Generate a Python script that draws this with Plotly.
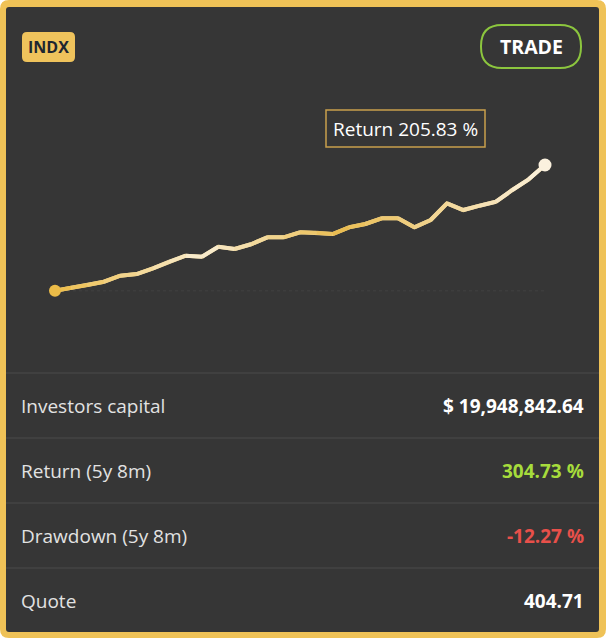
import plotly.graph_objects as go

W, H = 606, 638

# return curve, %
ret = [0, 4.9, 9.3, 14.7, 24.6, 27.3, 36.7, 47.5, 57.3, 55.7,
       72.0, 68.3, 76.0, 87.4, 87.4, 95.6, 95.0, 92.8, 103.8, 109.2,
       118.5, 118.5, 103.8, 115.8, 143.1, 132.1, 139.2, 145.7, 164.9, 182.4,
       205.83]
idx = list(range(len(ret)))

row_labels = ["Investors capital", "Return (5y 8m)", "Drawdown (5y 8m)", "Quote"]
row_values = ["$ 19,948,842.64", "304.73 %", "-12.27 %", "404.71"]
row_colors = ["#ffffff", "#a6dc3c", "#e8504a", "#ffffff"]

tip_text = "Return 205.83 %"
badge_text = "INDX"
button_text = "TRADE"

BG = "#363636"
GOLD = "#efc257"


def px(x):
    return x / W


def py(y):
    return 1 - y / H


def rrect(x0, y0, x1, y1, r):
    # rounded rectangle path in paper units, pixel input
    X = lambda v: f"{px(v):.5f}"
    Y = lambda v: f"{py(v):.5f}"
    return (f"M {X(x0 + r)} {Y(y0)} L {X(x1 - r)} {Y(y0)} Q {X(x1)} {Y(y0)} {X(x1)} {Y(y0 + r)} "
            f"L {X(x1)} {Y(y1 - r)} Q {X(x1)} {Y(y1)} {X(x1 - r)} {Y(y1)} "
            f"L {X(x0 + r)} {Y(y1)} Q {X(x0)} {Y(y1)} {X(x0)} {Y(y1 - r)} "
            f"L {X(x0)} {Y(y0 + r)} Q {X(x0)} {Y(y0)} {X(x0 + r)} {Y(y0)} Z")


# gold -> cream -> gold -> cream along the line
stops = [(0.0, (236, 188, 72)), (0.3, (249, 237, 210)), (0.58, (233, 188, 80)), (1.0, (251, 241, 222))]


def grad(t):
    for (t0, c0), (t1, c1) in zip(stops[:-1], stops[1:]):
        if t <= t1:
            f = (t - t0) / (t1 - t0)
            c = [round(a + (b - a) * f) for a, b in zip(c0, c1)]
            return f"rgb({c[0]},{c[1]},{c[2]})"
    return "rgb(251,241,222)"


fig = go.Figure()

n = len(ret)
# faint baseline
fig.add_trace(go.Scatter(x=[idx[0], idx[-1]], y=[ret[0], ret[0]], mode="lines",
                         line=dict(color="#3d3d3d", width=1.5, dash="dot"), hoverinfo="skip"))
# whole line underneath so the joints stay closed
fig.add_trace(go.Scatter(x=idx, y=ret, mode="lines",
                         line=dict(color="rgb(242,215,150)", width=4), hoverinfo="skip"))
for i in range(n - 1):
    fig.add_trace(go.Scatter(x=idx[i:i + 2], y=ret[i:i + 2], mode="lines",
                             line=dict(color=grad((i + 0.5) / (n - 1)), width=4),
                             hoverinfo="skip"))
fig.add_trace(go.Scatter(x=[idx[0]], y=[ret[0]], mode="markers",
                         marker=dict(size=12, color=grad(0)), cliponaxis=False))
fig.add_trace(go.Scatter(x=[idx[-1]], y=[ret[-1]], mode="markers",
                         marker=dict(size=13, color=grad(1)), cliponaxis=False))

# axis placement: index 0 at px 55, last at px 545; 0 % at py 290.7, max at py 165
x_lo, x_hi = 55, 545
y_lo, y_hi = 290.7, 165
xs = (x_hi - x_lo) / (idx[-1] - idx[0])
ys = (y_lo - y_hi) / (ret[-1] - ret[0])
xr = [-1, idx[-1] + 1]
yr = [-30, 230]
xdom = [px(x_lo + (xr[0] - idx[0]) * xs), px(x_lo + (xr[1] - idx[0]) * xs)]
ydom = [py(y_lo - (yr[0] - ret[0]) * ys), py(y_lo - (yr[1] - ret[0]) * ys)]

shapes = [
    dict(type="path", xref="paper", yref="paper", path=rrect(0, 0, W, H, 9),
         fillcolor=GOLD, line_width=0, layer="below"),
    dict(type="path", xref="paper", yref="paper", path=rrect(6, 7, 599, 632, 3),
         fillcolor=BG, line_width=0, layer="below"),
    # INDX badge
    dict(type="path", xref="paper", yref="paper", path=rrect(22, 32, 75, 62, 5),
         fillcolor="#efc35c", line_width=0, layer="below"),
    # TRADE button
    dict(type="path", xref="paper", yref="paper", path=rrect(481, 25, 581, 68, 21),
         fillcolor=BG, line=dict(color="#8cc63e", width=2), layer="below"),
    # tooltip box
    dict(type="rect", xref="paper", yref="paper", x0=px(326), x1=px(485), y0=py(110), y1=py(147),
         fillcolor=BG, line=dict(color="#c9a04c", width=1.5), layer="below"),
]
for k in range(len(row_labels)):
    yline = 373 + k * 65
    shapes.append(dict(type="line", xref="paper", yref="paper", x0=px(6), x1=px(599),
                       y0=py(yline), y1=py(yline), line=dict(color="#454545", width=1.5)))

ann = [
    dict(text=f"<b>{badge_text}</b>", x=px(48.5), y=py(47), font=dict(size=16, color="#1e2630")),
    dict(text=f"<b>{button_text}</b>", x=px(531), y=py(46.5), font=dict(size=19.5, color="#ffffff")),
    dict(text=tip_text, x=px(405.5), y=py(129), font=dict(size=19, color="#ffffff")),
]
for k, (lab, val, col) in enumerate(zip(row_labels, row_values, row_colors)):
    yc = 406 + k * 65
    ann.append(dict(text=lab, x=px(19), y=py(yc), xanchor="left", font=dict(size=19, color="#e2e2e2")))
    ann.append(dict(text=f"<b>{val}</b>", x=px(586), y=py(yc), xanchor="right",
                    font=dict(size=19, color=col)))
for a in ann:
    a.update(xref="paper", yref="paper", showarrow=False)
    a.setdefault("xanchor", "center")
    a["yanchor"] = "middle"

fig.update_layout(
    width=W, height=H,
    margin=dict(l=0, r=0, t=0, b=0),
    paper_bgcolor="#ffffff", plot_bgcolor="rgba(0,0,0,0)",
    font=dict(family="Open Sans"),
    showlegend=False,
    xaxis=dict(domain=xdom, range=xr, visible=False, fixedrange=True),
    yaxis=dict(domain=ydom, range=yr, visible=False, fixedrange=True),
    shapes=shapes, annotations=ann,
)

fig.write_html("out.html", config={"displayModeBar": False},
               post_script="document.body.style.margin='0px';")
